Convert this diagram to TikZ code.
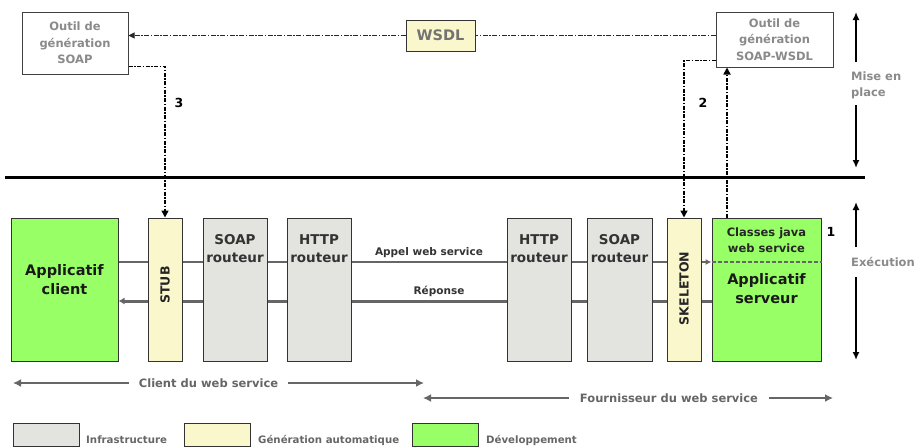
\documentclass[tikz,border=0pt]{standalone}
\usepackage{fontspec}
\setmainfont{DejaVu Sans}
\usetikzlibrary{arrows.meta,backgrounds}
\definecolor{devC}{HTML}{99FF66}
\definecolor{genC}{HTML}{FAF7CC}
\definecolor{infraC}{HTML}{E3E3E0}
\definecolor{toolT}{HTML}{8A8A8A}
\definecolor{lineC}{HTML}{666666}
\definecolor{boxT}{HTML}{333333}
\begin{document}
\begin{tikzpicture}[x=1pt,y=-1pt,
  box/.style={draw=black!80, line width=1pt, inner sep=0pt, minimum height=143pt},
  infra/.style={box, fill=infraC},
  gen/.style={box, fill=genC},
  dev/.style={box, fill=devC},
  tool/.style={draw=black!75, line width=1pt, fill=white, inner sep=0pt, align=center,
     font=\bfseries\fontsize{11.5}{16.5}\selectfont, text=toolT},
  routtxt/.style={align=center, font=\bfseries\fontsize{13.5}{18}\selectfont, text=boxT},
  bigtxt/.style={align=center, font=\bfseries\fontsize{14.5}{19}\selectfont, text=black!90},
  rottxt/.style={rotate=90, font=\bfseries\fontsize{12.5}{15}\selectfont, text=black!85},
  sidetxt/.style={anchor=west, align=left, font=\bfseries\fontsize{11.5}{16}\selectfont, text=toolT, inner sep=0pt},
  numtxt/.style={font=\bfseries\fontsize{12.5}{15}\selectfont, text=black},
  msgtxt/.style={font=\bfseries\fontsize{10.5}{13}\selectfont, text=boxT, inner sep=1pt},
  roletxt/.style={fill=white, font=\bfseries\fontsize{11.5}{14}\selectfont, text=lineC, inner ysep=1pt},
  legbox/.style={draw=black!80, line width=1pt, minimum width=66pt, minimum height=23pt, inner sep=0pt},
  legtxt/.style={anchor=base west, font=\bfseries\fontsize{10.2}{13}\selectfont, text=lineC, inner sep=0pt},
  flowA/.style={draw=lineC, line width=2pt, -{Latex[length=6pt,width=6pt]}},
  flowB/.style={draw=lineC, line width=3pt, -{Latex[length=6pt,width=7pt]}},
  roleA/.style={draw=lineC, line width=2.5pt, {Latex[length=8pt,width=8pt]}-{Latex[length=8pt,width=8pt]}},
  gen arrow/.style={draw=black, line width=1.6pt, dash pattern=on 4pt off 1.5pt on 1.5pt off 1.5pt, -{Triangle[length=7pt,width=7pt]}},
  wsdl line/.style={draw=black!85, line width=1pt, dash pattern=on 5pt off 1.5pt on 1.5pt off 1.5pt},
  phase/.style={draw=black, line width=1.8pt},
]
\useasboundingbox (0,0) rectangle (920,447);

% top tools
\node[tool, minimum width=106pt, minimum height=62pt] (soapTool) at (75,43) {Outil de\\génération\\SOAP};
\node[tool, minimum width=117pt, minimum height=55pt] (wsdlTool) at (774.5,39.5) {Outil de\\génération\\SOAP-WSDL};
\node[draw=black!80, line width=1pt, fill=genC, minimum width=69pt, minimum height=31pt, inner sep=0pt,
      font=\bfseries\fontsize{14.5}{17}\selectfont, text=black!55] (wsdl) at (440.5,35.5) {WSDL};

\draw[wsdl line] (wsdlTool.west |- wsdl.east) -- (wsdl.east);
\draw[wsdl line, -{Triangle[length=6pt,width=6pt]}] (wsdl.west) -- (wsdl.west -| soapTool.east);

% separator
\draw[line width=3pt] (5,177) -- (865,177);

% execution boxes
\node[dev, minimum width=107pt] (client) at (64.5,289.5) {};
\node[gen, minimum width=34pt] (stub) at (165,289.5) {};
\node[infra, minimum width=64pt] (soapL) at (235,289.5) {};
\node[infra, minimum width=64pt] (httpL) at (319,289.5) {};
\node[infra, minimum width=64pt] (httpR) at (539,289.5) {};
\node[infra, minimum width=65pt] (soapR) at (619.5,289.5) {};
\node[gen, minimum width=34pt] (skel) at (684,289.5) {};
\node[dev, minimum width=109pt] (serv) at (766.5,289.5) {};

\node[bigtxt] (clientT) at (64.5,279.5) {Applicatif\\client};
\node[rottxt] (stubT) at ([yshift=4.5pt]stub.center) {STUB};
\node[routtxt] (soapLT) at (235,249) {SOAP\\routeur};
\node[routtxt] (httpLT) at (319,249) {HTTP\\routeur};
\node[routtxt] (httpRT) at (539,249) {HTTP\\routeur};
\node[routtxt] (soapRT) at (619.5,249) {SOAP\\routeur};
\node[rottxt] (skelT) at ([yshift=1pt]skel.center) {SKELETON};
\node[align=center, font=\bfseries\fontsize{11.5}{16}\selectfont, text=black!85] (classesT) at (766.5,240) {Classes java\\web service};
\node[bigtxt] (servT) at (766.5,289) {Applicatif\\serveur};

% flows
\begin{scope}[on background layer]
\draw[flowA] ([yshift=27.5pt]client.east) -- ([yshift=27.5pt]serv.west);
\draw[flowB] ([yshift=-11.5pt]serv.west) -- ([yshift=-11.5pt]client.east);
\end{scope}
\draw[draw=lineC, line width=1.5pt, dash pattern=on 4pt off 2pt] ([yshift=27.5pt]serv.west) -- ([yshift=27.5pt]serv.east);
\node[msgtxt] (appel) at (429,253) {Appel web service};
\node[msgtxt] (rep) at (439,291) {Réponse};

% generation arrows
\draw[gen arrow] ([yshift=8pt]soapTool.south east) -| (stub.north);
\draw[gen arrow] ([yshift=7pt]wsdlTool.south west) -| (skel.north);
\draw[gen arrow] ([xshift=-39.5pt]serv.north) coordinate (c1) -- (c1 |- wsdlTool.south);
\node[numtxt] (n3) at (179,103) {3};
\node[numtxt] (n2) at (703,103) {2};
\node[numtxt] (n1) at (831,232) {1};

% phases
\node[sidetxt] (mise) at (851,85) {Mise en\\place};
\draw[phase, -{Latex[length=8pt,width=7pt]}] (856,62) -- (856,12);
\draw[phase, -{Latex[length=8pt,width=7pt]}] (856,105) -- (856,168);
\node[sidetxt] (exec) at (851,262) {Exécution};
\draw[phase, -{Latex[length=8pt,width=7pt]}] (856,247) -- (856,202);
\draw[phase, -{Latex[length=8pt,width=7pt]}] (856,277) -- (856,360);

% roles
\coordinate (cl1) at (13,383);
\coordinate (cl2) at (424,383);
\draw[roleA] (cl1) -- (cl2);
\node[roletxt, inner xsep=9.5pt] (clientRole) at (208.5,383) {Client du web service};
\coordinate (fo1) at (423,398);
\coordinate (fo2) at (833,398);
\draw[roleA] (fo1) -- (fo2);
\node[roletxt, inner xsep=11pt] (fourRole) at (669,398) {Fournisseur du web service};

% legend
\node[legbox, fill=infraC] (lg1) at (46,434.5) {};
\node[legtxt] (lt1) at (86,443) {Infrastructure};
\node[legbox, fill=genC] (lg2) at (217.5,434.5) {};
\node[legtxt] (lt2) at (258,443) {Génération automatique};
\node[legbox, fill=devC] (lg3) at (445.5,434.5) {};
\node[legtxt] (lt3) at (486,443) {Développement};
\end{tikzpicture}
\end{document}
